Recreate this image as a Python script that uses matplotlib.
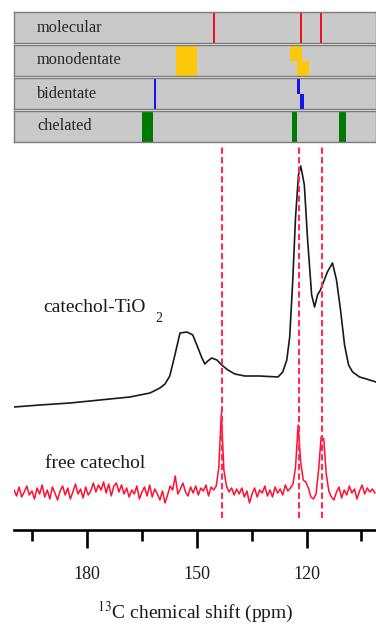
import numpy as np
import matplotlib
matplotlib.use('Agg')
import matplotlib.pyplot as plt

plt.rcParams['font.family'] = 'Liberation Serif'
plt.rcParams['mathtext.fontset'] = 'stix'

# --- binding-mode reference shifts (ppm) for the top strip ---
rows = ['molecular', 'monodentate', 'bidentate', 'chelated']
row_colors = ['#f01020', '#fdc70c', '#1414f0', '#007a00']
# (ppm_a, ppm_b, ymin, ymax) as fraction of row height
molecular_bands = [(145.6, 145.0, 0, 1), (121.9, 121.3, 0, 1), (116.4, 115.8, 0, 1)]
mono_bands = [(155.7, 150.0, 0, 1), (124.6, 121.3, 0.5, 1), (122.7, 119.2, 0, 0.5)]
bi_bands = [(161.8, 161.1, 0, 1), (122.7, 121.7, 0.5, 1), (121.7, 120.6, 0, 0.5)]
chel_bands = [(165.1, 162.0, 0, 1), (124.1, 122.5, 0, 1), (111.2, 109.3, 0, 1)]
all_bands = [molecular_bands, mono_bands, bi_bands, chel_bands]

# --- catechol-TiO2 spectrum ---
tio2_ppm = [200.0, 192.9, 184.7, 176.5, 168.3, 162.8, 160.1, 158.7, 157.4, 156.0,
            154.6, 152.7, 151.1, 150.0, 148.6, 147.8, 147.0, 145.9, 144.5, 143.2,
            141.5, 139.6, 136.9, 132.8, 127.8, 126.5, 125.4, 124.6, 123.8, 123.0,
            122.2, 121.6, 121.1, 120.6, 119.7, 118.6, 117.8, 117.0, 116.2, 114.3,
            112.9, 111.8, 110.7, 109.6, 108.5, 107.4, 105.5, 103.6, 101.0]
tio2_int = [123, 125, 127, 130, 133, 137, 142, 146, 154, 175,
            197, 198, 195, 185, 172, 166, 169, 172, 170, 165,
            160, 156, 154, 154, 153, 158, 170, 193, 247, 313,
            355, 364, 355, 345, 290, 235, 223, 235, 240, 258,
            267, 250, 220, 185, 165, 158, 153, 151, 148]

# --- free catechol spectrum, 0.7 ppm steps from 200 ppm ---
free_ppm = np.arange(200, 101, -0.7)
free_int = [40, 34, 43, 33, 38, 44, 35, 39, 31, 42,
            36, 45, 33, 40, 31, 43, 37, 30, 39, 44,
            35, 42, 31, 38, 46, 36, 41, 32, 43, 35,
            39, 47, 38, 45, 40, 48, 37, 46, 34, 44,
            47, 38, 45, 36, 42, 33, 40, 36, 44, 31,
            38, 43, 34, 45, 33, 41, 36, 30, 39, 27,
            35, 44, 40, 54, 36, 41, 47, 38, 34, 43,
            37, 44, 35, 42, 39, 45, 34, 43, 40, 44,
            62, 117, 60, 44, 38, 42, 35, 41, 36, 42,
            33, 39, 27, 36, 42, 33, 40, 37, 44, 34,
            40, 33, 43, 37, 41, 35, 45, 39, 42, 46,
            63, 105, 68, 50, 48, 42, 33, 31, 36, 60,
            93, 91, 56, 39, 33, 30, 38, 43, 32, 40,
            35, 44, 37, 41, 31, 39, 45, 36, 42, 38,
            41, 37]

dash_ppm = [143.2, 122.0, 115.7]
xmin, xmax = 200, 101

W, H = 376, 626
fig = plt.figure(figsize=(W / 100, H / 100), dpi=100)

# top strip, one axes per row
row_top = [12, 45, 78, 111]
row_h = 31
for i, name in enumerate(rows):
    ax = fig.add_axes([14 / W, 1 - (row_top[i] + row_h) / H, 362 / W, row_h / H])
    ax.set_facecolor('#c9c9c9')
    ax.set_xlim(xmin, xmax)
    ax.set_ylim(0, 1)
    ax.set_xticks([])
    ax.set_yticks([])
    for s in ax.spines.values():
        s.set_color('#7c7c7c')
        s.set_linewidth(1.0)
    for a, b, y0, y1 in all_bands[i]:
        ax.axvspan(a, b, ymin=y0, ymax=y1, color=row_colors[i], lw=0)
    ax.text(0.064, 0.5, name, transform=ax.transAxes, ha='left', va='center',
            fontsize=11.8, color='#262626')

# spectra
ax = fig.add_axes([14 / W, 1 - 530 / H, 362 / W, 383 / H])
ax.set_xlim(xmin, xmax)
ax.set_ylim(0, 383)
ax.plot(tio2_ppm, tio2_int, color='#1a1a1a', lw=1.2)
ax.plot(free_ppm, free_int, color='#ff1030', lw=1.1)
ax.vlines(dash_ppm, 12, 383, colors='#ff2a55', linestyles=(0, (3, 1.6)), lw=1.5)

ax.text(192.1, 223, 'catechol-TiO', ha='left', va='center', fontsize=14, color='#1a1a1a')
ax.text(161.3, 211, '2', ha='left', va='center', fontsize=10, color='#1a1a1a')
ax.text(191.6, 67, 'free catechol', ha='left', va='center', fontsize=14, color='#1a1a1a')

for s in ['top', 'left', 'right']:
    ax.spines[s].set_visible(False)
ax.spines['bottom'].set_linewidth(1.9)
ax.set_yticks([])
ax.set_xticks([180, 150, 120])
ax.set_xticks([195, 165, 135, 105], minor=True)
ax.tick_params(axis='x', which='major', direction='out', length=13, width=1.9,
               labelsize=13, pad=13, labelcolor='#1a1a1a')
ax.tick_params(axis='x', which='minor', direction='out', length=8, width=1.9)

fig.text(195 / W, 1 - 618 / H, r'$^{13}$C chemical shift (ppm)', ha='center',
         va='baseline', fontsize=14, color='#1a1a1a')

fig.savefig('out.png', dpi=100)
